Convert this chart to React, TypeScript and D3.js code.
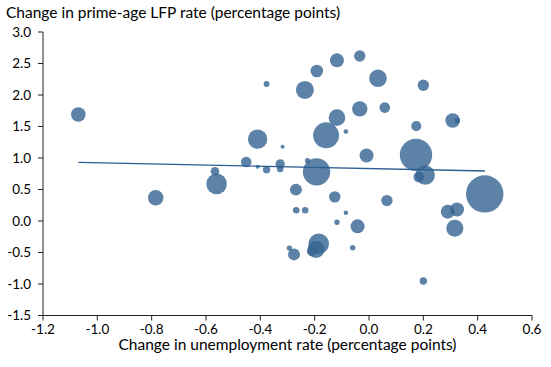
import * as d3 from "d3";

// change in unemployment rate (pp), change in prime-age LFP rate (pp), labor force size (relative)
const unempChange = [
  -1.07, -0.785, -0.377, -0.192, -0.118, -0.236, -0.41, -0.318, -0.118, -0.158,
  -0.085, -0.452, -0.41, -0.377, -0.327, -0.327, -0.226, -0.193, -0.567, -0.561,
  -0.009, 0.173, 0.207, 0.183, -0.269, -0.126, 0.066, -0.268, -0.235, -0.085,
  -0.118, -0.042, 0.29, 0.324, 0.316, -0.185, -0.195, -0.21, -0.293, -0.276,
  -0.06, 0.2, -0.034, 0.033, 0.2, -0.034, 0.058, 0.308, 0.325, 0.174, 0.426,
];
const lfpChange = [
  1.69, 0.37, 2.175, 2.38, 2.55, 2.08, 1.3, 1.18, 1.64, 1.36,
  1.42, 0.937, 0.86, 0.815, 0.905, 0.826, 0.957, 0.78, 0.79, 0.589,
  1.04, 1.05, 0.73, 0.7, 0.498, 0.383, 0.324, 0.171, 0.171, 0.13,
  -0.019, -0.085, 0.148, 0.182, -0.114, -0.361, -0.451, -0.48, -0.43, -0.53,
  -0.424, -0.952, 2.62, 2.266, 2.155, 1.78, 1.8, 1.595, 1.595, 1.506, 0.43,
];
const popSize = [
  6.1, 6.8, 1.0, 4.5, 5.6, 9.3, 10.8, 0.46, 7.9, 19.3,
  0.6, 3.2, 0.46, 1.57, 2.5, 1.25, 0.83, 21.5, 2.1, 12.1,
  5.6, 30, 10.8, 3.2, 4.1, 3.7, 3.7, 1.25, 1.25, 0.6,
  0.83, 5.6, 5.6, 5.6, 8.3, 12.1, 8.3, 2.9, 0.83, 4.1,
  0.83, 1.57, 3.7, 8.7, 3.7, 6.8, 3.2, 6.1, 0.83, 2.9, 40,
];

// fitted line endpoints
const trendX = [-1.07, 0.427];
const trendY = [0.93, 0.794];

const xTickValues = [-1.2, -1.0, -0.8, -0.6, -0.4, -0.2, 0.0, 0.2, 0.4, 0.6];
const yTickValues = [-1.5, -1.0, -0.5, 0.0, 0.5, 1.0, 1.5, 2.0, 2.5, 3.0];

const yTitle = "Change in prime-age LFP rate (percentage points)";
const xTitle = "Change in unemployment rate (percentage points)";

export default function App() {
  const width = 551;
  const height = 367;
  const marginLeft = 43;
  const marginRight = 19;
  const marginTop = 32;
  const marginBottom = 51.5;
  const font = "Lato, 'Noto Sans', sans-serif";

  const x = d3.scaleLinear().domain([-1.2, 0.6]).range([marginLeft, width - marginRight]);
  const y = d3.scaleLinear().domain([-1.5, 3.0]).range([height - marginBottom, marginTop]);
  const r = d3.scaleSqrt().domain([0, 40]).range([0, 18.7]);

  const points = unempChange.map((u, i) => ({ u, l: lfpChange[i], s: popSize[i] }));
  const line = d3.line<number>().x((d) => x(d)).y((_, i) => y(trendY[i]));

  const axisColor = "#222";

  return (
    <svg width={width} height={height} style={{ position: "absolute", left: 0, top: 0 }} fontFamily={font}>
      <rect width={width} height={height} fill="#fff" />

      {/* bubbles */}
      {points.map((d, i) => (
        <circle key={i} cx={x(d.u)} cy={y(d.l)} r={r(d.s)} fill="#346391" fillOpacity={0.8} />
      ))}

      {/* trend line */}
      <path d={line(trendX) ?? ""} fill="none" stroke="#2a5d91" strokeWidth={1.3} />

      {/* y axis */}
      <line x1={marginLeft} x2={marginLeft} y1={y(3.0)} y2={y(-1.5)} stroke={axisColor} />
      {yTickValues.map((t) => (
        <g key={t} transform={`translate(${marginLeft},${y(t)})`}>
          <line x2={-5} stroke={axisColor} />
          <text x={-12} dy="0.36em" textAnchor="end" fontSize={13.5} fill="#000">
            {t.toFixed(1)}
          </text>
        </g>
      ))}

      {/* x axis */}
      <line x1={x(-1.2)} x2={x(0.6)} y1={y(-1.5)} y2={y(-1.5)} stroke={axisColor} />
      {xTickValues.map((t) => (
        <g key={t} transform={`translate(${x(t)},${y(-1.5)})`}>
          <line y2={5} stroke={axisColor} />
          <text y={18} textAnchor="middle" fontSize={13.5} fill="#000">
            {t.toFixed(1)}
          </text>
        </g>
      ))}

      <text x={6} y={18} fontSize={15.5} fill="#000">{yTitle}</text>
      <text x={(x(-1.2) + x(0.6)) / 2} y={350} textAnchor="middle" fontSize={15.5} fill="#000">
        {xTitle}
      </text>
    </svg>
  );
}
